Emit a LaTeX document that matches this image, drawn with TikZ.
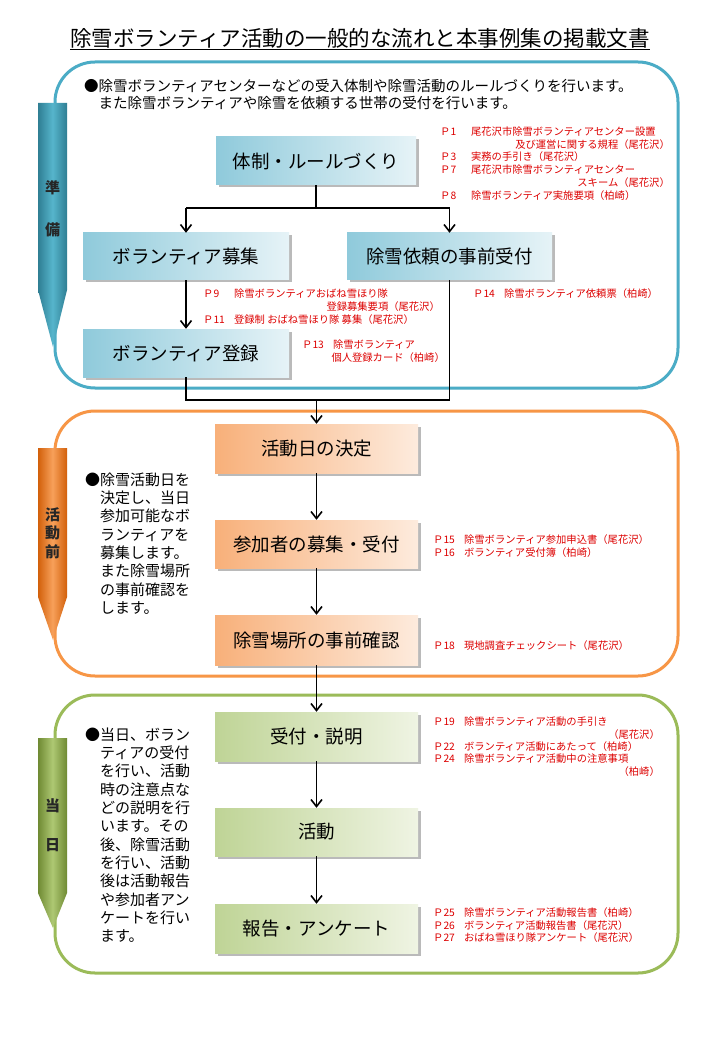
\documentclass[tikz,border=0pt]{standalone}
\usepackage{fontspec}
\setmainfont{Noto Sans CJK JP}
\usepackage{tikz}
\usetikzlibrary{arrows.meta, shadows, calc}

\definecolor{tealline}{HTML}{4BACC6}
\definecolor{tealdark}{HTML}{2F7E93}
\definecolor{teallight}{HTML}{56B5CC}
\definecolor{tealboxA}{HTML}{8FCADB}
\definecolor{tealboxB}{HTML}{E6F3F7}
\definecolor{orangeline}{HTML}{F79646}
\definecolor{orangedark}{HTML}{D2600A}
\definecolor{orangelight}{HTML}{F7A05A}
\definecolor{orangeboxA}{HTML}{F8B07A}
\definecolor{orangeboxB}{HTML}{FDEBDD}
\definecolor{greenline}{HTML}{9BBB59}
\definecolor{greendark}{HTML}{6F8A33}
\definecolor{greenlight}{HTML}{AEC873}
\definecolor{greenboxA}{HTML}{BFD496}
\definecolor{greenboxB}{HTML}{EFF4E3}
\definecolor{docred}{HTML}{DD0000}

\newcommand{\docpage}[2]{\makebox[3em][l]{Ｐ#1}#2}

\tikzset{
  stagebox/.style={line width=3pt, rounded corners=40pt},
  flowbox/.style={minimum height=48pt, inner sep=0pt,
    font=\fontsize{18.5}{20}\selectfont,
    drop shadow={shadow xshift=2.5pt, shadow yshift=-2.5pt, fill=black!45, opacity=0.6}},
  tealbox/.style={flowbox, left color=tealboxA, right color=tealboxB},
  orangebox/.style={flowbox, minimum width=203pt, left color=orangeboxA, right color=orangeboxB},
  greenbox/.style={flowbox, minimum width=203pt, left color=greenboxA, right color=greenboxB},
  banner/.style={font=\fontsize{15}{18.5}\selectfont\bfseries, text=black!85, inner sep=0pt, align=center},
  note/.style={anchor=north west, align=left, inner sep=0pt},
  docref/.style={anchor=west, text=docred, inner sep=0pt, font=\fontsize{10.3}{12}\selectfont},
  link/.style={line width=1.6pt},
  arr/.style={line width=1.6pt, -{Straight Barb[length=7pt,width=11pt]}}
}

\begin{document}
\begin{tikzpicture}[x=1pt, y=-1pt]

    % page
    \fill[white] (0,0) rectangle (720,1040);
    \useasboundingbox (0,0) rectangle (720,1040);

    % Title
    \node[inner sep=0pt, font=\fontsize{21.5}{24}\selectfont] (title) at (360,38) {除雪ボランティア活動の一般的な流れと本事例集の掲載文書};
    \draw[line width=0.8pt] ([yshift=-1.5pt]title.south west) -- ([yshift=-1.5pt]title.south east);

    % Draw the three stages
    \draw[stagebox, draw=tealline] (55,62) rectangle (678,388);
    \draw[stagebox, draw=orangeline] (55,411) rectangle (678,676);
    \draw[stagebox, draw=greenline] (55,695) rectangle (678,973);

    % Banners on the left
    \shade[left color=tealdark, right color=tealdark, middle color=teallight]
      (38,103) -- (67,103) -- (67,290) -- (53,347) -- (38,290) -- cycle;
    \shade[left color=orangedark, right color=orangedark, middle color=orangelight]
      (38,448) -- (67,448) -- (67,597) -- (53,640) -- (38,597) -- cycle;
    \shade[left color=greendark, right color=greendark, middle color=greenlight]
      (38,738) -- (67,738) -- (67,893) -- (53,928) -- (38,893) -- cycle;
    \node[banner] (jun) at (52.5,188) {準};
    \node[banner] (bi) at (52.5,230) {備};
    \node[banner] (mae) at (52.5,533) {活\\動\\前};
    \node[banner] (to) at (52.5,806) {当};
    \node[banner] (hi) at (52.5,845) {日};

    % Stage notes
    \node[note, font=\fontsize{14.5}{17}\selectfont] (prepnote) at (84,79.5)
      {●除雪ボランティアセンターなどの受入体制や除雪活動のルールづくりを行います。\\
       \hspace*{1em}また除雪ボランティアや除雪を依頼する世帯の受付を行います。};
    \node[note, font=\fontsize{15}{18.3}\selectfont] (beforenote) at (85,472.5)
      {●除雪活動日を\\ \hspace*{1em}決定し、当日\\ \hspace*{1em}参加可能なボ\\ \hspace*{1em}ランティアを\\
       \hspace*{1em}募集します。\\ \hspace*{1em}また除雪場所\\ \hspace*{1em}の事前確認を\\ \hspace*{1em}します。};
    \node[note, font=\fontsize{15}{18.3}\selectfont] (daynote) at (85,727.5)
      {●当日、ボラン\\ \hspace*{1em}ティアの受付\\ \hspace*{1em}を行い、活動\\ \hspace*{1em}時の注意点な\\
       \hspace*{1em}どの説明を行\\ \hspace*{1em}います。その\\ \hspace*{1em}後、除雪活動\\ \hspace*{1em}を行い、活動\\
       \hspace*{1em}後は活動報告\\ \hspace*{1em}や参加者アン\\ \hspace*{1em}ケートを行い\\ \hspace*{1em}ます。};

    % Flow boxes
    \node[tealbox, minimum width=200pt] (rule) at (316,161) {体制・ルールづくり};
    \node[tealbox, minimum width=206pt, minimum height=47pt] (boshu) at (186,256.5) {ボランティア募集};
    \node[tealbox, minimum width=205pt, minimum height=47pt] (irai) at (449.5,256.5) {除雪依頼の事前受付};
    \node[tealbox, minimum width=206pt] (toroku) at (186,353) {ボランティア登録};
    \node[orangebox, minimum height=49pt] (kettei) at (316.5,448.5) {活動日の決定};
    \node[orangebox] (sanka) at (316.5,544) {参加者の募集・受付};
    \node[orangebox, minimum height=50pt] (kakunin) at (316.5,640) {除雪場所の事前確認};
    \node[greenbox, minimum height=49pt] (uketsuke) at (316.5,736.5) {受付・説明};
    \node[greenbox] (katsudo) at (316.5,832) {活動};
    \node[greenbox, minimum height=49pt] (hokoku) at (316.5,928.5) {報告・アンケート};

    % Connectors
    \draw[link] (rule.south) -- ++(0,23) coordinate (split);
    \draw[link] (split -| boshu) -- (split -| irai);
    \draw[arr] (split -| boshu) -- (boshu.north);
    \draw[arr] (split -| irai) -- (irai.north);
    \draw[arr] (boshu.south) -- (toroku.north);
    \coordinate (merge) at (316.5,400);
    \draw[link] (toroku.south) |- (merge -| irai) -- (irai.south);
    \draw[arr] (merge) -- (kettei.north);
    \draw[arr] (kettei.south) -- (sanka.north);
    \draw[arr] (sanka.south) -- (kakunin.north);
    \draw[arr] (kakunin.south) -- (uketsuke.north);
    \draw[arr] (uketsuke.south) -- (katsudo.north);
    \draw[arr] (katsudo.south) -- (hokoku.north);

    % Documents of the case book
    \node[docref] (p1) at (440,132) {\docpage{1}{尾花沢市除雪ボランティアセンター設置}};
    \node[docref, anchor=east] (p1b) at (670,145) {及び運営に関する規程（尾花沢）};
    \node[docref] (p3) at (440,157) {\docpage{3}{実務の手引き（尾花沢）}};
    \node[docref] (p7) at (440,170) {\docpage{7}{尾花沢市除雪ボランティアセンター}};
    \node[docref, anchor=east] (p7b) at (670,183) {スキーム（尾花沢）};
    \node[docref] (p8) at (440,196) {\docpage{8}{除雪ボランティア実施要項（柏崎）}};

    \node[docref] (p9) at (203,294) {\docpage{9}{除雪ボランティアおばね雪ほり隊}};
    \node[docref, anchor=east] (p9b) at (440,307) {登録募集要項（尾花沢）};
    \node[docref] (p11) at (203,320) {\docpage{11}{登録制 おばね雪ほり隊 募集（尾花沢）}};
    \node[docref] (p14) at (473,294) {\docpage{14}{除雪ボランティア依頼票（柏崎）}};
    \node[docref] (p13) at (302,345) {\docpage{13}{除雪ボランティア}};
    \node[docref, anchor=east] (p13b) at (445,358) {個人登録カード（柏崎）};

    \node[docref] (p15) at (433,540) {\docpage{15}{除雪ボランティア参加申込書（尾花沢）}};
    \node[docref] (p16) at (433,553) {\docpage{16}{ボランティア受付簿（柏崎）}};
    \node[docref] (p18) at (433,646) {\docpage{18}{現地調査チェックシート（尾花沢）}};

    \node[docref] (p19) at (433,722) {\docpage{19}{除雪ボランティア活動の手引き}};
    \node[docref, anchor=east] (p19b) at (660,735) {（尾花沢）};
    \node[docref] (p22) at (433,747) {\docpage{22}{ボランティア活動にあたって（柏崎）}};
    \node[docref] (p24) at (433,759) {\docpage{24}{除雪ボランティア活動中の注意事項}};
    \node[docref, anchor=east] (p24b) at (660,772) {（柏崎）};
    \node[docref] (p25) at (433,913) {\docpage{25}{除雪ボランティア活動報告書（柏崎）}};
    \node[docref] (p26) at (433,926) {\docpage{26}{ボランティア活動報告書（尾花沢）}};
    \node[docref] (p27) at (433,938) {\docpage{27}{おばね雪ほり隊アンケート（尾花沢）}};

\end{tikzpicture}
\end{document}
